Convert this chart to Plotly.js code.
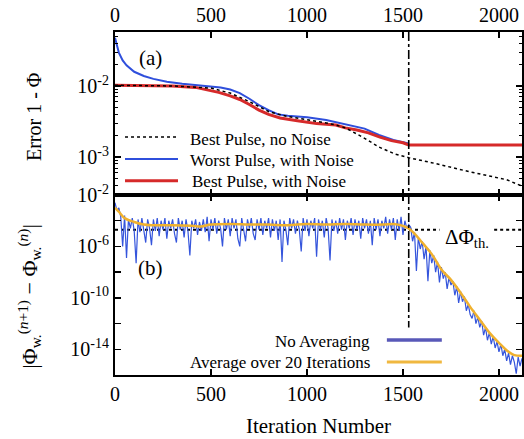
<!DOCTYPE html>
<html>
<head>
<meta charset="utf-8">
<script src="https://cdn.plot.ly/plotly-3.0.1.min.js"></script>
<style>html,body{margin:0;padding:0;background:#fff}#chart{width:524px;height:439px}</style>
</head>
<body>
<div id="chart"></div>
<script>
// ---------- Panel (a): Error 1 - Phi (log10 values) ----------
const worstNoiseIter = [0, 10, 20, 40, 60, 100, 150, 200, 270, 350, 450, 550, 600, 650, 700, 750, 800, 850, 900, 1000, 1100, 1200, 1300, 1375, 1450, 1530];
const worstNoiseLog  = [-1.32, -1.45, -1.53, -1.64, -1.71, -1.80, -1.86, -1.90, -1.94, -1.97, -1.99, -2.02, -2.05, -2.10, -2.18, -2.27, -2.34, -2.40, -2.42, -2.44, -2.48, -2.54, -2.60, -2.69, -2.76, -2.81];

const bestNoiseIter = [0, 150, 300, 420, 480, 540, 600, 650, 700, 750, 800, 860, 950, 1050, 1150, 1200, 1260, 1320, 1380, 1440, 1500, 1530, 2120];
const bestNoiseLog  = [-1.99, -1.99, -2.00, -2.02, -2.05, -2.09, -2.14, -2.19, -2.26, -2.34, -2.40, -2.45, -2.49, -2.53, -2.55, -2.59, -2.62, -2.66, -2.72, -2.77, -2.80, -2.83, -2.83];

const bestCleanIter = [0, 300, 500, 600, 700, 800, 900, 1000, 1100, 1150, 1200, 1290, 1375, 1460, 1530, 1650, 1850, 2040, 2120];
const bestCleanLog  = [-1.99, -2.00, -2.03, -2.10, -2.22, -2.36, -2.43, -2.47, -2.52, -2.55, -2.59, -2.72, -2.86, -2.96, -3.01, -3.08, -3.21, -3.32, -3.41];

// ---------- Panel (b): |Phi(n+1) - Phi(n)| (log10 values, one every 10 iterations) ----------
const rawStep = 10;
const rawLog = [
  -2.6, -3.2, -3.0, -3.7, -6.0, -3.6, -6.9, -3.9, -4.6, -3.8,
  -4.8, -7.3, -3.9, -4.9, -3.8, -4.7, -5.7, -3.9, -4.6, -5.9,
  -3.9, -4.8, -3.8, -5.2, -4.0, -4.7, -3.8, -5.4, -4.0, -4.6,
  -3.9, -5.0, -5.7, -3.8, -4.7, -4.0, -5.3, -3.9, -4.8, -6.7,
  -4.0, -4.6, -3.9, -5.1, -4.1, -4.8, -3.9, -4.9, -3.7, -5.6,
  -3.9, -4.7, -3.8, -5.0, -4.0, -4.6, -6.0, -3.8, -4.7, -3.9,
  -5.2, -3.8, -4.6, -3.9, -5.4, -6.0, -3.8, -4.7, -5.6, -3.9,
  -4.6, -3.8, -5.0, -5.5, -3.9, -4.7, -3.8, -5.1, -4.0, -4.6,
  -3.8, -5.3, -3.9, -4.8, -4.0, -5.5, -3.9, -7.2, -4.0, -4.7,
  -5.9, -3.8, -4.6, -3.9, -5.0, -4.0, -4.7, -6.4, -3.8, -4.8,
  -3.9, -5.2, -4.0, -4.6, -3.8, -6.8, -3.9, -4.7, -4.0, -5.3,
  -3.8, -4.6, -7.1, -3.9, -4.8, -4.0, -5.0, -3.8, -4.7, -3.9,
  -5.5, -4.0, -4.6, -3.8, -5.1, -3.9, -4.7, -4.0, -5.4, -3.8,
  -4.6, -3.9, -5.0, -4.0, -5.9, -3.8, -4.7, -3.9, -5.2, -4.0,
  -4.6, -3.7, -5.0, -3.9, -4.7, -3.8, -5.5, -3.9, -4.8, -3.7,
  -5.1, -4.0, -4.6, -4.3, -4.5, -5.6, -4.9, -7.9, -5.3, -6.2,
  -5.6, -7.0, -6.0, -8.7, -6.3, -7.3, -6.7, -8.0, -7.2, -8.8,
  -7.6, -8.5, -8.0, -9.3, -8.4, -9.0, -8.7, -9.8, -9.1, -10.4,
  -9.5, -10.3, -9.9, -11.0, -10.5, -11.3, -11.6, -11.0, -12.0, -11.5,
  -12.3, -11.8, -12.9, -12.3, -13.3, -12.7, -13.6, -13.0, -13.9, -13.4,
  -14.2, -13.6, -14.5, -14.0, -14.9, -14.3, -15.2, -14.5, -15.0, -15.9,
  -14.6, -15.3, -14.7
];

const avgIter = [0, 20, 50, 100, 150, 200, 300, 400, 450, 500, 600, 700, 800, 900, 1000, 1100, 1200, 1300, 1400, 1450, 1500, 1530, 1560, 1600, 1650, 1700, 1750, 1800, 1850, 1900, 1950, 2000, 2050, 2080, 2120];
const avgLog  = [-3.0, -3.3, -3.8, -4.1, -4.3, -4.35, -4.35, -4.4, -4.45, -4.3, -4.25, -4.3, -4.3, -4.35, -4.25, -4.3, -4.25, -4.3, -4.3, -4.25, -4.4, -4.6, -5.0, -5.7, -6.6, -7.8, -8.6, -9.6, -10.7, -11.7, -12.7, -13.5, -14.2, -14.45, -14.5];

const switchIter = 1530;       // vertical dash-dot marker
const thresholdLog = -4.7;     // Delta Phi_th.
const iterMax = 2120;

// ---------- helpers ----------
const pow10 = a => a.map(v => Math.pow(10, v));
const rawIter = rawLog.map((_, i) => i * rawStep);

const FONT = "Times New Roman, Liberation Serif, Times, serif";

const traces = [
  // panel (a)
  {x: worstNoiseIter, y: pow10(worstNoiseLog), xaxis: 'x2', yaxis: 'y2', mode: 'lines',
   line: {color: '#2f4fdc', width: 2}, name: 'Worst Pulse, with Noise'},
  {x: bestNoiseIter, y: pow10(bestNoiseLog), xaxis: 'x2', yaxis: 'y2', mode: 'lines',
   line: {color: '#d62a2a', width: 3}, name: 'Best Pulse, with Noise'},
  {x: bestCleanIter, y: pow10(bestCleanLog), xaxis: 'x2', yaxis: 'y2', mode: 'lines',
   line: {color: '#000', width: 1.5, dash: 'dot'}, name: 'Best Pulse, no Noise'},
  {x: [switchIter, switchIter], y: [Math.pow(10, -1.24), Math.pow(10, -3.54)], xaxis: 'x2', yaxis: 'y2', mode: 'lines',
   line: {color: '#000', width: 1.6, dash: 'dashdot'}},
  // panel (b)
  {x: [0, 1690], y: pow10([thresholdLog, thresholdLog]), xaxis: 'x', yaxis: 'y', mode: 'lines',
   line: {color: '#000', width: 2, dash: 'dot'}},
  {x: [1975, iterMax], y: pow10([thresholdLog, thresholdLog]), xaxis: 'x', yaxis: 'y', mode: 'lines',
   line: {color: '#000', width: 2, dash: 'dot'}},
  {x: rawIter, y: pow10(rawLog), xaxis: 'x', yaxis: 'y', mode: 'lines',
   line: {color: '#3555dc', width: 1.2}, name: 'No Averaging'},
  {x: avgIter, y: pow10(avgLog), xaxis: 'x', yaxis: 'y', mode: 'lines',
   line: {color: '#f0b12e', width: 2.5, shape: 'spline'}, name: 'Average over 20 Iterations'},
  {x: [switchIter, switchIter], y: [Math.pow(10, -2), Math.pow(10, -12.3)], xaxis: 'x', yaxis: 'y', mode: 'lines',
   line: {color: '#000', width: 1.6, dash: 'dashdot'}}
];

const tickFont = {family: FONT, size: 20, color: '#000'};
const xTicks = [0, 500, 1000, 1500, 2000];
const sup = e => '10<sup>' + e + '</sup>';

const axBase = {
  showline: true, linecolor: '#000', linewidth: 2, mirror: 'ticks',
  ticks: 'inside', ticklen: 6, tickwidth: 1.5, tickcolor: '#000',
  showgrid: false, zeroline: false, tickfont: tickFont
};

const minorTop = [];
[-3, -4].forEach(d => { for (let k = 2; k <= 9; k++) minorTop.push(k * Math.pow(10, d)); });
minorTop.push(0.02, 0.03, 0.04, 0.05);

function txt(x, y, text, size, opts) {
  return Object.assign({xref: 'paper', yref: 'paper', x: x, y: y, text: text, showarrow: false,
    xanchor: 'center', yanchor: 'middle', font: {family: FONT, size: size, color: '#000'}}, opts || {});
}

const layout = {
  width: 524, height: 439,
  margin: {l: 115, r: 2, t: 32, b: 64},
  paper_bgcolor: '#fff', plot_bgcolor: '#fff',
  showlegend: false,
  font: {family: FONT, color: '#000'},
  xaxis: Object.assign({}, axBase, {
    domain: [0, 1], anchor: 'y', range: [0, iterMax],
    tickmode: 'array', tickvals: xTicks,
    title: {text: 'Iteration Number', font: {family: FONT, size: 21, color: '#000'}, standoff: 14}
  }),
  xaxis2: Object.assign({}, axBase, {
    domain: [0, 1], anchor: 'y2', side: 'top', range: [0, iterMax],
    tickmode: 'array', tickvals: xTicks
  }),
  yaxis: Object.assign({}, axBase, {
    domain: [0, 0.5248], anchor: 'x', type: 'log', range: [-16, -2],
    tickmode: 'array',
    tickvals: [1e-2, 1e-4, 1e-6, 1e-8, 1e-10, 1e-12, 1e-14],
    ticktext: [sup('-2'), ' ', sup('-6'), ' ', sup('-10'), ' ', sup('-14')]
  }),
  yaxis2: Object.assign({}, axBase, {
    domain: [0.5248, 1], anchor: 'x2', type: 'log', range: [-3.535, -1.24],
    tickmode: 'array', tickvals: [1e-2, 1e-3], ticktext: [sup('-2'), sup('-3')],
    minor: {tickmode: 'array', tickvals: minorTop, ticks: 'inside', ticklen: 3, tickcolor: '#000', tickwidth: 1}
  }),
  annotations: [
    txt(-0.199, 0.752, 'Error 1 - Φ', 20, {textangle: -90}),
    txt(-0.212, 0.230, '|Φ<sub>w.</sub><sup>(<i>n</i>+1)</sup> − Φ<sub>w.</sub><sup>(<i>n</i>)</sup>|', 22, {textangle: -90}),
    txt(0.086, 0.924, '(a)', 21),
    txt(0.086, 0.312, '(b)', 21),
    txt(1832, 0.40, 'ΔΦ<sub>th.</sub>', 21, {xref: 'x'}),
    // legend (a)
    txt(0.179, 0.688, 'Best Pulse, no Noise', 17, {xanchor: 'left'}),
    txt(0.179, 0.624, 'Worst Pulse, with Noise', 17, {xanchor: 'left'}),
    txt(0.184, 0.563, 'Best Pulse, with Noise', 17, {xanchor: 'left'}),
    // legend (b)
    txt(0.631, 0.099, 'No Averaging', 17, {xanchor: 'right'}),
    txt(0.631, 0.035, 'Average over 20 Iterations', 17, {xanchor: 'right'})
  ],
  shapes: [
    {type: 'line', xref: 'paper', yref: 'paper', x0: 0.0246, x1: 0.1548, y0: 0.694, y1: 0.694,
     line: {color: '#000', width: 1.5, dash: 'dot'}},
    {type: 'line', xref: 'paper', yref: 'paper', x0: 0.0246, x1: 0.1548, y0: 0.630, y1: 0.630,
     line: {color: '#2f4fdc', width: 2}},
    {type: 'line', xref: 'paper', yref: 'paper', x0: 0.0246, x1: 0.1548, y0: 0.566, y1: 0.566,
     line: {color: '#d62a2a', width: 3}},
    {type: 'line', xref: 'paper', yref: 'paper', x0: 0.668, x1: 0.803, y0: 0.102, y1: 0.102,
     line: {color: '#5858b8', width: 3.5}},
    {type: 'line', xref: 'paper', yref: 'paper', x0: 0.668, x1: 0.803, y0: 0.038, y1: 0.038,
     line: {color: '#f0b840', width: 3}}
  ]
};

Plotly.newPlot('chart', traces, layout, {staticPlot: true, displayModeBar: false});
</script>
</body>
</html>
